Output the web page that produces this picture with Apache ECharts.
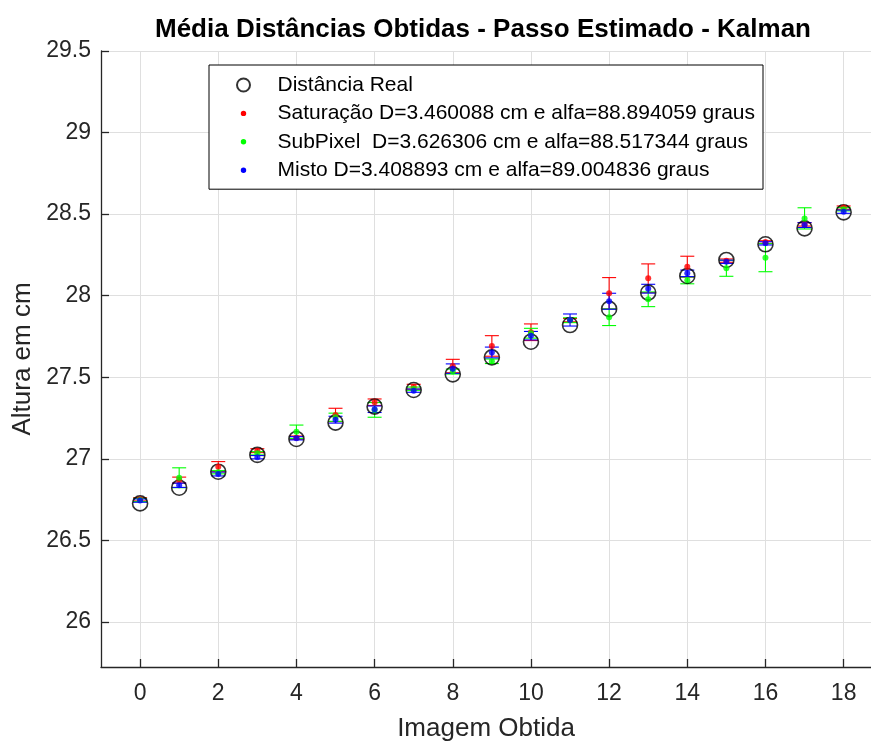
<!DOCTYPE html>
<html>
<head>
<meta charset="utf-8">
<script src="https://cdn.jsdelivr.net/npm/echarts@6/dist/echarts.min.js"></script>
<style>
html,body{margin:0;padding:0;background:#fff;}
#chart{width:871px;height:742px;}
</style>
</head>
<body>
<div id="chart"></div>
<script>
// ---- data ----
var imageIndex = [0,1,2,3,4,5,6,7,8,9,10,11,12,13,14,15,16,17,18];
var realDistance = [26.727,26.823,26.921,27.024,27.122,27.222,27.320,27.422,27.518,27.622,27.718,27.820,27.919,28.019,28.121,28.219,28.315,28.413,28.511];
var saturacaoMean = [26.752,26.870,26.952,27.050,27.130,27.269,27.347,27.442,27.569,27.692,27.776,27.850,28.015,28.107,28.178,28.215,28.329,28.437,28.540];
var saturacaoErr  = [0.010,0.018,0.031,0.012,0.010,0.041,0.020,0.015,0.041,0.063,0.051,0.010,0.096,0.088,0.064,0.010,0.008,0.010,0.010];
var subpixelMean  = [26.748,26.884,26.918,27.034,27.166,27.255,27.300,27.430,27.535,27.598,27.770,27.850,27.868,27.978,28.094,28.168,28.233,28.474,28.530];
var subpixelErr   = [0.010,0.061,0.010,0.010,0.041,0.025,0.045,0.010,0.015,0.014,0.030,0.015,0.051,0.045,0.021,0.049,0.086,0.065,0.010];
var mistoMean     = [26.744,26.838,26.907,27.010,27.126,27.240,27.304,27.418,27.553,27.652,27.755,27.851,27.966,28.043,28.137,28.208,28.321,28.433,28.515];
var mistoErr      = [0.010,0.013,0.012,0.010,0.010,0.021,0.020,0.010,0.029,0.033,0.026,0.037,0.049,0.027,0.020,0.010,0.010,0.015,0.010];
var xTicks = [0,2,4,6,8,10,12,14,16,18];
var yTicks = [26,26.5,27,27.5,28,28.5,29,29.5];

var nameReal = 'Distância Real';
var nameSat = 'Saturação D=3.460088 cm e alfa=88.894059 graus';
var nameSub = 'SubPixel  D=3.626306 cm e alfa=88.517344 graus';
var nameMis = 'Misto D=3.408893 cm e alfa=89.004836 graus';

var FONT = "'Liberation Sans', Arial, Helvetica, sans-serif";
var TXT = '#262626';

function pairs(ys){ return imageIndex.map(function(x,i){ return [x, ys[i]]; }); }
function triples(ys, es){ return imageIndex.map(function(x,i){ return [x, ys[i], es[i]]; }); }

function errorBarSeries(name, color, ys, es){
  return {
    name: name,
    type: 'custom',
    data: triples(ys, es),
    encode: {x: 0, y: 1},
    itemStyle: {color: color},
    renderItem: function(params, api){
      var x = api.value(0), m = api.value(1), e = api.value(2);
      var top = api.coord([x, m + e]);
      var bot = api.coord([x, m - e]);
      var hw = 7;
      var st = {stroke: color, lineWidth: 1.1};
      return {
        type: 'group',
        children: [
          {type:'line', shape:{x1:top[0], y1:top[1], x2:bot[0], y2:bot[1]}, style: st},
          {type:'line', shape:{x1:top[0]-hw, y1:top[1], x2:top[0]+hw, y2:top[1]}, style: st},
          {type:'line', shape:{x1:bot[0]-hw, y1:bot[1], x2:bot[0]+hw, y2:bot[1]}, style: st}
        ]
      };
    },
    silent: true
  };
}
function dotSeries(name, color, ys){
  return {
    name: name,
    type: 'scatter',
    data: pairs(ys),
    symbol: 'circle',
    symbolSize: 6,
    itemStyle: {color: color},
    silent: true
  };
}

var dotIcon = 'path://M0,0 M12,12 M3.5,6 A2.5,2.5 0 1 1 8.5,6 A2.5,2.5 0 1 1 3.5,6 Z';

var chart = echarts.init(document.getElementById('chart'), null, {renderer: 'canvas'});
chart.setOption({
  animation: false,
  backgroundColor: '#ffffff',
  title: {
    text: 'Média Distâncias Obtidas - Passo Estimado - Kalman',
    left: 150,
    top: 12,
    textStyle: {fontFamily: FONT, fontSize: 26, fontWeight: 'bold', color: '#000'}
  },
  grid: {left: 101, right: 0, top: 51, bottom: 75, containLabel: false, outerBoundsMode: 'none'},
  legend: {
    orient: 'vertical',
    left: 209,
    top: 65,
    padding: [8, 8, 7, 27],
    itemGap: 4.4,
    itemWidth: 14,
    itemHeight: 13,
    backgroundColor: '#ffffff',
    borderColor: '#000000',
    borderWidth: 1,
    borderRadius: 0,
    selectedMode: false,
    textStyle: {fontFamily: FONT, fontSize: 21, color: '#000', lineHeight: 24, padding: [0,0,0,22]},
    data: [
      {name: nameReal, icon: 'circle'},
      {name: nameSat, icon: dotIcon},
      {name: nameSub, icon: dotIcon},
      {name: nameMis, icon: dotIcon}
    ]
  },
  xAxis: {
    type: 'value',
    min: -1,
    max: 18.7,
    name: 'Imagem Obtida',
    nameLocation: 'middle',
    nameGap: 49,
    nameTextStyle: {fontFamily: FONT, fontSize: 26, color: TXT},
    axisLine: {show: true, onZero: false, lineStyle: {color: TXT, width: 1.3}},
    axisTick: {show: true, inside: true, length: 8, customValues: xTicks, lineStyle: {color: TXT, width: 1.3}},
    axisLabel: {customValues: xTicks, margin: 15, fontFamily: FONT, fontSize: 23, color: TXT,
      formatter: function(v){ return String(v); }},
    splitLine: {show: true, lineStyle: {color: '#dfdfdf', width: 1}}
  },
  yAxis: {
    type: 'value',
    min: 25.724,
    max: 29.5,
    name: 'Altura em cm',
    nameLocation: 'middle',
    nameGap: 52,
    nameTextStyle: {fontFamily: FONT, fontSize: 26, color: TXT},
    axisLine: {show: true, onZero: false, lineStyle: {color: TXT, width: 1.3}},
    axisTick: {show: true, inside: true, length: 8, customValues: yTicks, lineStyle: {color: TXT, width: 1.3}},
    axisLabel: {customValues: yTicks, margin: 10, fontFamily: FONT, fontSize: 23, color: TXT,
      formatter: function(v){ return String(v); }},
    splitLine: {show: true, lineStyle: {color: '#dfdfdf', width: 1}}
  },
  series: [
    {
      name: nameReal,
      type: 'scatter',
      data: pairs(realDistance),
      symbol: 'circle',
      symbolSize: 15,
      itemStyle: {color: 'rgba(0,0,0,0)', borderColor: '#000', borderWidth: 1.6},
      silent: true
    },
    errorBarSeries(nameSat, '#ff0000', saturacaoMean, saturacaoErr),
    dotSeries(nameSat, '#ff0000', saturacaoMean),
    errorBarSeries(nameSub, '#00ff00', subpixelMean, subpixelErr),
    dotSeries(nameSub, '#00ff00', subpixelMean),
    errorBarSeries(nameMis, '#0000ff', mistoMean, mistoErr),
    dotSeries(nameMis, '#0000ff', mistoMean)
  ]
});
</script>
</body>
</html>
